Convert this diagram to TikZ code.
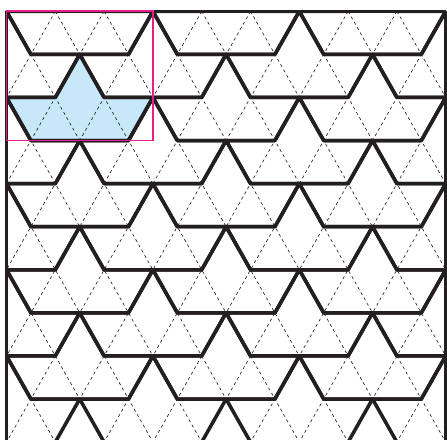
\documentclass[tikz,border=0pt]{standalone}
\usepackage{tikz}
\definecolor{tileblue}{RGB}{198,232,248}
\definecolor{framepink}{RGB}{230,30,140}
\definecolor{tileink}{RGB}{35,31,32}
\tikzset{
  tileedge/.style={draw=tileink,line width=3pt,line join=round},
  latticeline/.style={draw=tileink,line width=0.55pt,dash pattern=on 2.6pt off 2.6pt},
}
\newcommand{\tilerow}[2]{%
  \foreach \tK in {-1,...,3}{%
    \pgfmathsetmacro{\tX}{#2+6*\tK}%
    \draw[tileedge] (\tX,#1) -- ++(2,0) -- ++(1,-1) -- ++(1,1) -- ++(2,0)
      -- ++(-1,1) -- ++(-4,0) -- cycle;%
  }%
}

\begin{document}
\begin{tikzpicture}[x=0.732cm,y=-1.2924cm]
  \useasboundingbox (-0.2664,-0.2623) rectangle (18.0533,9.951);
  \begin{scope}
    \clip (0,0) rectangle (18,10.5);
    \fill[tileblue] (0,2) -- (2,2) -- (3,1) -- (4,2) -- (6,2) -- (5,3) -- (1,3) -- cycle;
    \foreach \c in {-10,-8,...,18} \draw[latticeline] (\c,0) -- ++(10.5,10.5);
    \foreach \c in {0,2,...,28} \draw[latticeline] (\c,0) -- ++(-10.5,10.5);
    \foreach \r in {0,...,9}{%
      \pgfmathtruncatemacro{\off}{3*mod(\r,2)}%
      \tilerow{\r}{\off}%
    }
  \end{scope}
  \draw[tileedge] (0,10.5) -- (0,0) -- (18,0) -- (18,10.5);
  \draw[framepink,line width=1.6pt] (0,0) rectangle (6,3);
\end{tikzpicture}
\end{document}
